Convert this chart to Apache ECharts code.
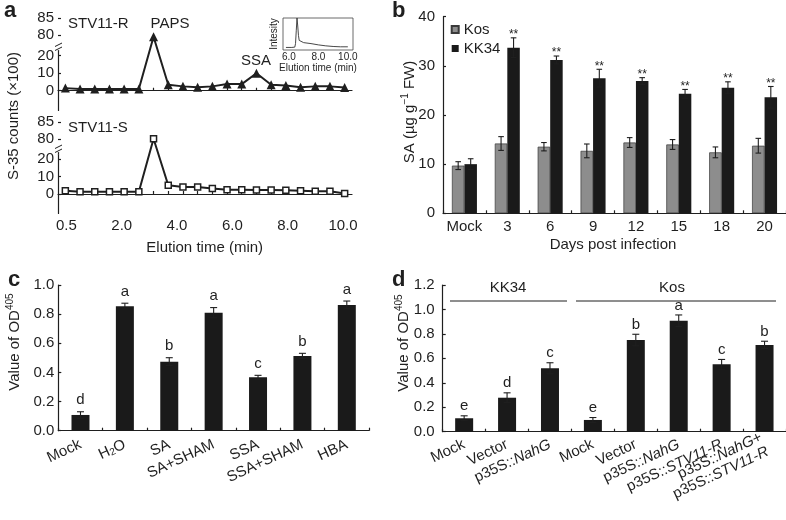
<!DOCTYPE html>
<html><head><meta charset="utf-8">
<script src="https://cdn.jsdelivr.net/npm/echarts@6.0.0/dist/echarts.min.js"></script>
<style>html,body{margin:0;padding:0;background:#fff}#c{width:786px;height:520px}</style>
</head><body><div id="c"></div>
<script>
// ---------- Panel a : S-35 counts (x100) per elution fraction ----------
const aFractions = ['1','2','3','4','5','6','7','8','9','10','11','12','13','14','15','16','17','18','19','20'];
const aResistant   = [1.5, 1, 1, 1, 1, 1, 79.5, 3.4, 2.5, 2, 2.5, 3.8, 3.8, 10, 3.4, 3, 2, 2.5, 2.5, 1.8];
const aSusceptible = [1.8, 1.3, 1.3, 1.3, 1.3, 1.3, 80, 5, 4, 4, 3.2, 2.5, 2.5, 2.3, 2.3, 2.1, 1.8, 1.5, 1.5, 0.3];
const aYTicks = [0, 10, 20, 80, 85];
const aTimeTicks = [0, 2, 4, 6, 8, 10];
const aTimeLabels = ['0.5', '2.0', '4.0', '6.0', '8.0', '10.0'];
const insetTime      = [5.8, 6.2, 6.4, 6.45, 6.5, 6.55, 6.6, 6.65, 6.7, 6.8, 7.0, 7.5, 8.0, 8.5, 9.0, 9.5, 10.0];
const insetIntensity = [8, 8, 9, 20, 60, 100, 75, 45, 30, 26, 23, 20, 16, 13, 11, 10, 10];
const insetTicks = [6, 8, 10];

// ---------- Panel b : SA content ----------
const bDays = ['Mock', '3', '6', '9', '12', '15', '18', '20'];
const bKos     = [9.7, 14.2, 13.55, 12.7, 14.4, 14.0, 12.4, 13.75];
const bKosErr  = [0.8, 1.4, 0.85, 1.4, 1.0, 1.0, 1.1, 1.5];
const bKK34    = [10.0, 33.7, 31.2, 27.5, 26.9, 24.3, 25.55, 23.6];
const bKK34Err = [1.1, 2.0, 0.8, 1.8, 0.7, 0.9, 1.2, 2.2];
const bSig = ['', '**', '**', '**', '**', '**', '**', '**'];

// ---------- Panel c : OD405 by treatment ----------
const cTreat = ['Mock', 'H2O', 'SA', 'SA+SHAM', 'SSA', 'SSA+SHAM', 'HBA'];
const cOD  = [0.108, 0.855, 0.474, 0.81, 0.366, 0.513, 0.863];
const cErr = [0.022, 0.02, 0.027, 0.035, 0.014, 0.018, 0.027];
const cLetters = ['d', 'a', 'b', 'a', 'c', 'b', 'a'];

// ---------- Panel d : OD405 by line ----------
const dLines = ['Mock', 'Vector', 'p35S::NahG', 'Mock', 'Vector', 'p35S::NahG', 'p35S::STV11-R', 'p35S::NahG+\np35S::STV11-R'];
const dOD  = [0.11, 0.278, 0.519, 0.096, 0.75, 0.908, 0.551, 0.71];
const dErr = [0.02, 0.04, 0.045, 0.02, 0.047, 0.047, 0.04, 0.03];
const dLetters = ['e', 'd', 'c', 'e', 'b', 'a', 'c', 'b'];

const FONT = "'Liberation Sans', Arial, Helvetica, sans-serif";
const INK = '#1f1f1f';
const axisLineStyle = { color: INK, width: 1.2 };

const chart = echarts.init(document.getElementById('c'), null, { renderer: 'canvas', width: 786, height: 520 });

function errorBars(xi, yi, vals, errs, marks, st) {
  return {
    type: 'custom', xAxisIndex: xi, yAxisIndex: yi, z: 6, silent: true,
    data: vals.map((v, i) => [i, v, errs[i]]),
    renderItem: function (params, api) {
      const i = params.dataIndex;
      const c = api.value(0), v = api.value(1), e = api.value(2);
      const hi = api.coord([c, v + e]);
      const lo = api.coord([c, v - e]);
      const x = hi[0] + st.dx;
      const ls = { stroke: INK, lineWidth: st.lw };
      const ch = [
        { type: 'line', shape: { x1: x, y1: hi[1], x2: x, y2: lo[1] }, style: ls },
        { type: 'line', shape: { x1: x - st.cap, y1: hi[1], x2: x + st.cap, y2: hi[1] }, style: ls },
        { type: 'line', shape: { x1: x - st.cap, y1: lo[1], x2: x + st.cap, y2: lo[1] }, style: ls }
      ];
      const m = marks ? marks[i] : '';
      if (m) {
        ch.push({ type: 'text', x: x, y: hi[1] + st.gap,
          style: { text: m, fontSize: st.fs, fontFamily: FONT, fill: INK,
                   align: 'center', textAlign: 'center', verticalAlign: 'bottom', textVerticalAlign: 'bottom' } });
      }
      return { type: 'group', children: ch };
    }
  };
}

function catX(grid, data, extra) {
  return Object.assign({
    gridIndex: grid, type: 'category', data: data, boundaryGap: true,
    axisLine: { lineStyle: axisLineStyle },
    axisTick: { show: true, inside: true, length: 3, interval: 0, lineStyle: axisLineStyle },
    axisLabel: { fontSize: 15, color: INK, fontFamily: FONT, margin: 6, interval: 0 },
    splitLine: { show: false }
  }, extra || {});
}
function valY(grid, min, max, interval, extra) {
  return Object.assign({
    gridIndex: grid, type: 'value', min: min, max: max, interval: interval,
    axisLine: { show: true, lineStyle: axisLineStyle },
    axisTick: { show: true, inside: true, length: 3, lineStyle: axisLineStyle },
    axisLabel: { fontSize: 15, color: INK, fontFamily: FONT, margin: 8 },
    splitLine: { show: false }
  }, extra || {});
}

const aBreakY = (grid) => ({
  gridIndex: grid, type: 'value', min: -11, max: 85,
  breaks: [ { start: 23, end: 75.5, gap: '0.84%' }, { start: 76, end: 84.8, gap: '33.15%' } ],
  breakArea: { show: false },
  axisLine: { show: true, lineStyle: axisLineStyle },
  axisTick: { show: true, inside: true, length: 3, lineStyle: axisLineStyle, customValues: aYTicks },
  axisLabel: { fontSize: 15, color: INK, fontFamily: FONT, margin: 4, customValues: aYTicks },
  splitLine: { show: false }
});

const supRich = {
  sup: { fontSize: 10, fontFamily: FONT, fill: INK, color: INK, verticalAlign: 'top', lineHeight: 12 }
};

function yTitle(x, y, text) {
  return { type: 'text', x: x, y: y, rotation: Math.PI / 2, silent: true,
    style: { text: text, fontSize: 15, fontFamily: FONT, fill: INK, lineHeight: 20,
             align: 'center', textAlign: 'center', verticalAlign: 'middle', textVerticalAlign: 'middle', rich: supRich } };
}
function label(x, y, text, size, opts) {
  return Object.assign({ type: 'text', x: x, y: y, silent: true,
    style: Object.assign({ text: text, fontSize: size, fontFamily: FONT, fill: INK,
             align: 'left', textAlign: 'left', verticalAlign: 'middle', textVerticalAlign: 'middle' }, (opts && opts.style) || {}) },
    (opts && opts.el) || {});
}
function breakMark(y) {
  return { type: 'group', silent: true, children: [
    { type: 'rect', shape: { x: 55, y: y - 3, width: 8, height: 6 }, style: { fill: '#fff' } },
    { type: 'line', shape: { x1: 55, y1: y - 0.5, x2: 62, y2: y - 4 }, style: { stroke: INK, lineWidth: 1 } },
    { type: 'line', shape: { x1: 55, y1: y + 3.5, x2: 62, y2: y } , style: { stroke: INK, lineWidth: 1 } }
  ]};
}

const italicRich = {
  i: { fontStyle: 'italic', fontSize: 15, fontFamily: FONT, color: INK }
};

const option = {
  animation: false,
  textStyle: { fontFamily: FONT, color: INK },
  grid: [
    { left: 58, top: 18, width: 294, height: 92 },          // 0 a top
    { left: 58, top: 122, width: 294, height: 91 },         // 1 a bottom
    { left: 66.4, top: 122, width: 276.6, height: 91 },     // 2 a time labels
    { left: 283, top: 18, width: 70, height: 32, show: true, borderColor: '#444', borderWidth: 0.8, backgroundColor: '#fff', z: 3 }, // 3 inset
    { left: 443, top: 16.7, width: 344, height: 196.6 },    // 4 b
    { left: 58.3, top: 285, width: 310.7, height: 145.7 },  // 5 c
    { left: 442.7, top: 285, width: 344, height: 146.7 }    // 6 d
  ],
  xAxis: [
    catX(0, aFractions, { axisLabel: { show: false }, axisTick: { show: true, inside: true, length: 3, alignWithLabel: true, interval: 0, lineStyle: axisLineStyle } }),
    catX(1, aFractions, { axisLabel: { show: false }, axisTick: { show: true, inside: true, length: 3, alignWithLabel: true, interval: 0, lineStyle: axisLineStyle } }),
    { gridIndex: 2, type: 'value', min: 0, max: 10,
      axisLine: { show: false }, axisTick: { show: false }, splitLine: { show: false },
      axisLabel: { customValues: aTimeTicks, fontSize: 15, color: INK, fontFamily: FONT, margin: 5,
                   formatter: (v) => aTimeLabels[aTimeTicks.indexOf(v)] },
      name: 'Elution time (min)', nameLocation: 'middle', nameGap: 27,
      nameTextStyle: { fontSize: 15, color: INK, fontFamily: FONT } },
    { gridIndex: 3, type: 'value', min: 5.6, max: 10.35,
      axisLine: { show: false }, axisTick: { show: false }, splitLine: { show: false },
      axisLabel: { customValues: insetTicks, fontSize: 10, color: INK, fontFamily: FONT, margin: 2,
                   formatter: (v) => v.toFixed(1) },
      name: 'Elution time (min)', nameLocation: 'middle', nameGap: 13,
      nameTextStyle: { fontSize: 10, color: INK, fontFamily: FONT } },
    catX(4, bDays),
    catX(5, cTreat, { axisLabel: { fontSize: 15, color: INK, fontFamily: FONT, margin: 13, rotate: 25, interval: 0,
      formatter: (v) => v === 'H2O' ? 'H{sub|2}O' : v,
      rich: { sub: { fontSize: 10, fontFamily: FONT, color: INK, verticalAlign: 'bottom', lineHeight: 12 } } } }),
    catX(6, dLines, { axisLabel: { fontSize: 15, color: INK, fontFamily: FONT, margin: 12, rotate: 25, interval: 0, lineHeight: 16,
      formatter: (v) => v.replace(/(NahG|STV11-R)/g, '{i|$1}'), rich: italicRich } })
  ],
  yAxis: [
    aBreakY(0),
    aBreakY(1),
    { gridIndex: 2, type: 'value', min: 0, max: 1, show: false },
    { gridIndex: 3, type: 'value', min: 0, max: 100,
      axisLine: { show: false }, axisTick: { show: false }, axisLabel: { show: false }, splitLine: { show: false },
      name: 'Intesity', nameLocation: 'middle', nameGap: 4,
      nameTextStyle: { fontSize: 10, color: INK, fontFamily: FONT } },
    valY(4, 0, 40, 10),
    valY(5, 0, 1.0, 0.2, { axisLabel: { fontSize: 15, color: INK, fontFamily: FONT, margin: 4, formatter: (v) => v.toFixed(1) } }),
    valY(6, 0, 1.2, 0.2, { axisLabel: { fontSize: 15, color: INK, fontFamily: FONT, margin: 8, formatter: (v) => v.toFixed(1) } })
  ],
  legend: {
    data: ['Kos', 'KK34'], orient: 'vertical', left: 450.7, top: 22, padding: 0,
    itemWidth: 7, itemHeight: 7, itemGap: 4, icon: 'rect', selectedMode: false,
    textStyle: { fontSize: 15, color: INK, fontFamily: FONT }
  },
  series: [
    { type: 'line', name: 'STV11-R', xAxisIndex: 0, yAxisIndex: 0, data: aResistant,
      symbol: 'triangle', symbolSize: 9, showAllSymbol: true,
      lineStyle: { color: INK, width: 2 }, itemStyle: { color: INK } },
    { type: 'line', name: 'STV11-S', xAxisIndex: 1, yAxisIndex: 1, data: aSusceptible,
      symbol: 'rect', symbolSize: 6, showAllSymbol: true,
      lineStyle: { color: INK, width: 2 }, itemStyle: { color: '#fff', borderColor: INK, borderWidth: 1.5 } },
    { type: 'line', name: 'inset', xAxisIndex: 3, yAxisIndex: 3, z: 4,
      data: insetTime.map((t, i) => [t, insetIntensity[i]]),
      showSymbol: false, lineStyle: { color: '#333', width: 0.9 } },
    { type: 'bar', name: 'Kos', xAxisIndex: 4, yAxisIndex: 4, data: bKos, barWidth: 12.5, barGap: '0%',
      itemStyle: { color: '#8d8d8d', borderColor: '#3a3a3a', borderWidth: 0.7 } },
    { type: 'bar', name: 'KK34', xAxisIndex: 4, yAxisIndex: 4, data: bKK34, barWidth: 12.5, barGap: '0%',
      itemStyle: { color: '#1a1a1a' } },
    errorBars(4, 4, bKos, bKosErr, null, { dx: -6.25, cap: 2.8, lw: 1.1 }),
    errorBars(4, 4, bKK34, bKK34Err, bSig, { dx: 6.25, cap: 2.8, lw: 1.1, gap: 3, fs: 12 }),
    { type: 'bar', name: 'c', xAxisIndex: 5, yAxisIndex: 5, data: cOD, barWidth: 18, itemStyle: { color: '#1a1a1a' } },
    errorBars(5, 5, cOD, cErr, cLetters, { dx: 0, cap: 3.5, lw: 1.1, gap: -4, fs: 15 }),
    { type: 'bar', name: 'd', xAxisIndex: 6, yAxisIndex: 6, data: dOD, barWidth: 18, itemStyle: { color: '#1a1a1a' } },
    errorBars(6, 6, dOD, dErr, dLetters, { dx: 0, cap: 3.5, lw: 1.1, gap: -2, fs: 15 })
  ],
  graphic: [
    label(4, 21.5, 'a', 22, { style: { fontWeight: 'bold', verticalAlign: 'bottom', textVerticalAlign: 'bottom' } }),
    label(392, 21.5, 'b', 22, { style: { fontWeight: 'bold', verticalAlign: 'bottom', textVerticalAlign: 'bottom' } }),
    label(8, 291, 'c', 22, { style: { fontWeight: 'bold', verticalAlign: 'bottom', textVerticalAlign: 'bottom' } }),
    label(392, 291, 'd', 22, { style: { fontWeight: 'bold', verticalAlign: 'bottom', textVerticalAlign: 'bottom' } }),
    label(68, 24, 'STV11-R', 15),
    label(170, 24, 'PAPS', 15, { style: { align: 'center', textAlign: 'center' } }),
    label(256, 61, 'SSA', 15, { style: { align: 'center', textAlign: 'center' } }),
    label(68, 128, 'STV11-S', 15),
    breakMark(47),
    breakMark(149),
    yTitle(14, 116, 'S-35 counts (×100)'),
    yTitle(410, 112, 'SA (µg g{sup|−1} FW)'),
    yTitle(15, 342, 'Value of OD{sup|405}'),
    yTitle(404, 343, 'Value of OD{sup|405}'),
    label(613, 245, 'Days post infection', 15, { style: { align: 'center', textAlign: 'center' } }),
    { type: 'line', silent: true, shape: { x1: 450, y1: 301, x2: 567, y2: 301 }, style: { stroke: INK, lineWidth: 1 } },
    { type: 'line', silent: true, shape: { x1: 576, y1: 301, x2: 776, y2: 301 }, style: { stroke: INK, lineWidth: 1 } },
    label(508, 288, 'KK34', 15, { style: { align: 'center', textAlign: 'center' } }),
    label(672, 288, 'Kos', 15, { style: { align: 'center', textAlign: 'center' } })
  ]
};
chart.setOption(option);
</script>
</body></html>
